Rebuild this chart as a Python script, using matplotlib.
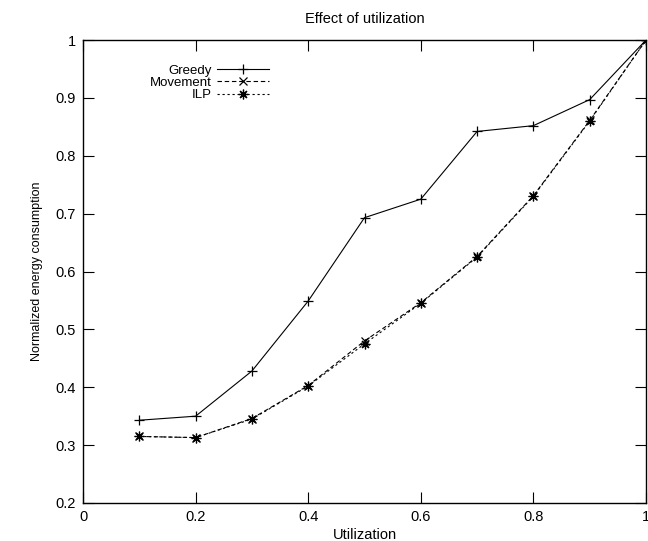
import numpy as np
import matplotlib.pyplot as plt
from matplotlib.ticker import FuncFormatter

utilization = [0.1, 0.2, 0.3, 0.4, 0.5, 0.6, 0.7, 0.8, 0.9, 1.0]
greedy = [0.343, 0.350, 0.428, 0.549, 0.693, 0.725, 0.842, 0.852, 0.897, 1.0]
movement = [0.315, 0.313, 0.346, 0.403, 0.480, 0.546, 0.626, 0.731, 0.861, 1.0]
ilp = [0.315, 0.313, 0.345, 0.402, 0.475, 0.545, 0.625, 0.730, 0.860, 1.0]

plt.rcParams['font.family'] = ['Liberation Sans', 'DejaVu Sans']

fig = plt.figure(figsize=(6.48, 5.41), dpi=100)
ax = fig.add_axes([83 / 648, 1 - 503 / 541, 563 / 648, 463 / 541])

ax.plot(utilization, greedy, color='black', linewidth=0.8, marker='+',
        markersize=7, markeredgewidth=0.9, label='Greedy')
ax.plot(utilization, movement, color='black', linewidth=0.8, linestyle=(0, (4, 2.5)),
        marker='x', markersize=5.5, markeredgewidth=0.9, label='Movement')
ax.plot(utilization, ilp, color='black', linewidth=0.8, linestyle=(0, (2, 2.5)),
        marker=(8, 2, 0), markersize=7, markeredgewidth=0.9, label='ILP')

ax.set_xlim(0, 1)
ax.set_ylim(0.2, 1)
ax.set_xticks(np.arange(0, 1.01, 0.2))
ax.set_yticks(np.arange(0.2, 1.01, 0.1))
fmt = FuncFormatter(lambda v, p: ('%.1f' % v).rstrip('0').rstrip('.') if v not in (0, 1) else '%d' % round(v))
ax.xaxis.set_major_formatter(fmt)
ax.yaxis.set_major_formatter(fmt)
ax.tick_params(direction='in', length=8, width=0.8, labelsize=10.5, pad=5,
               top=True, right=True)
for s in ax.spines.values():
    s.set_linewidth(1.0)

ax.set_title('Effect of utilization', fontsize=10.5, pad=12)
ax.set_xlabel('Utilization', fontsize=10.5, labelpad=3)
ax.set_ylabel('Normalized energy consumption', fontsize=9, labelpad=9)

leg = ax.legend(loc='upper right', bbox_to_anchor=(0.33, 0.947), frameon=False,
                markerfirst=False, handlelength=3.9, fontsize=9.5,
                labelspacing=0.0, handletextpad=0.4, borderaxespad=0,
                borderpad=0)
for t in leg.get_texts():
    t.set_ha('right')
    t.set_position((0, 0))
leg._legend_box.align = 'right'

fig.savefig('out.png', dpi=100)
